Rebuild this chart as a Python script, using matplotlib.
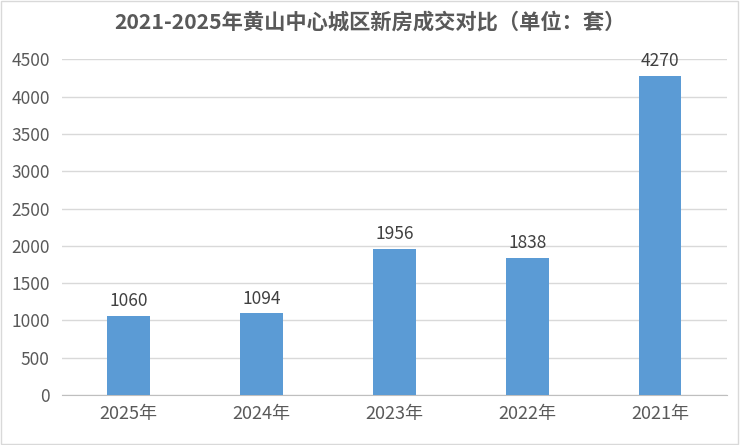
import matplotlib
matplotlib.use("Agg")
from matplotlib import pyplot as plt
from matplotlib.patches import Rectangle

plt.rcParams['font.family'] = ['Noto Sans CJK SC', 'DejaVu Sans']

years = ['2025年', '2024年', '2023年', '2022年', '2021年']
sales = [1060, 1094, 1956, 1838, 4270]
yticks = [0, 500, 1000, 1500, 2000, 2500, 3000, 3500, 4000, 4500]

text_color = '#595959'
bar_color = '#5B9BD5'

fig = plt.figure(figsize=(7.4, 4.45), dpi=100)
ax = fig.add_axes([0.084, 0.112, 0.898, 0.755])

x = range(len(years))
bars = ax.bar(x, sales, width=0.32, color=bar_color, zorder=3)

for xi, v in zip(x, sales):
    ax.text(xi, v + 80, str(v), ha='center', va='bottom', fontsize=12.5, color='#404040')

ax.set_xlim(-0.5, len(years) - 0.5)
ax.set_ylim(0, 4500)
ax.set_yticks(yticks)
ax.set_xticks(list(x))
ax.set_xticklabels(years, fontsize=13)
ax.tick_params(axis='both', length=0, colors=text_color)
ax.tick_params(axis='y', labelsize=12.5, pad=9)
ax.tick_params(axis='x', pad=7)

ax.grid(axis='y', color='#d9d9d9', linewidth=1, zorder=0)
for side in ['top', 'right', 'left']:
    ax.spines[side].set_visible(False)
ax.spines['bottom'].set_color('#bfbfbf')

fig.text(0.5, 0.95, '2021-2025年黄山中心城区新房成交对比（单位：套）',
         ha='center', va='center', fontsize=15.3, fontweight='bold', color=text_color)

fig.patches.append(Rectangle((0.002, 0.003), 0.995, 0.994, transform=fig.transFigure,
                             fill=False, edgecolor='#d9d9d9', linewidth=1))

fig.savefig('out.png', dpi=100)
